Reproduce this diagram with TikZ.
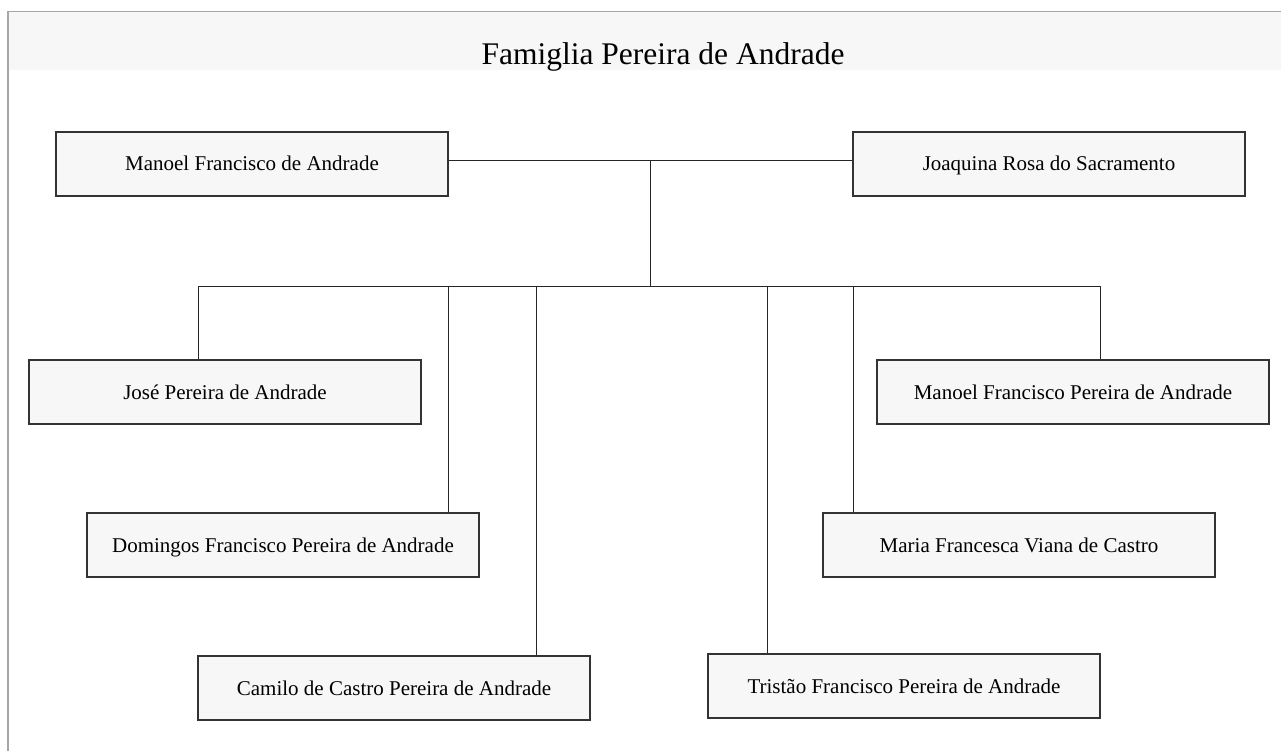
\documentclass[tikz,border=0pt]{standalone}
\usepackage{fontspec}
\setmainfont{Liberation Serif}
\usetikzlibrary{positioning}

\tikzset{
  person/.style={draw=black!80, fill=black!3, line width=1.2pt,
    minimum width=392pt, minimum height=64pt, inner sep=0pt,
    text height=14pt, text depth=0pt,
    font=\fontsize{21}{25}\selectfont},
  link/.style={draw=black!85, line width=1pt},
}

\begin{document}
\begin{tikzpicture}[x=1pt,y=-1pt]
    \useasboundingbox (0,0) rectangle (1281,751);
    % frame and title band
    \fill[black!3] (9,12) rectangle (1281,70);
    \draw[black!35, line width=1.2pt] (8,751) -- (8,11.5) -- (1281,11.5);
    \node (title) [anchor=base, font=\fontsize{31.5}{36}\selectfont] at (663,65) {Famiglia Pereira de Andrade};

    % parents
    \node (manoel) [person] at (252,164) {Manoel Francisco de Andrade};
    \node (joaquina) [person] at (1049,164) {Joaquina Rosa do Sacramento};
    \draw [link] ([yshift=3pt]manoel.east) -- coordinate (wed) ([yshift=3pt]joaquina.west);
    \coordinate (bus) at (wed |- 0,286);
    \draw [link] (wed) -- (bus);

    % children
    \foreach \kid/\cx/\cy/\dx/\name in {jose/225/392/198/{José Pereira de Andrade},
            domingos/283/545/448/{Domingos Francisco Pereira de Andrade},
            camilo/394/688/536/{Camilo de Castro Pereira de Andrade},
            tristao/904/686/767/{Tristão Francisco Pereira de Andrade},
            maria/1019/545/853/{Maria Francesca Viana de Castro},
            manoelfp/1073/392/1100/{Manoel Francisco Pereira de Andrade}} {
        \node (\kid) [person] at (\cx,\cy) {\name};
        \coordinate (drop-\kid) at (\dx,286);
        \draw [link] (drop-\kid) -- (drop-\kid |- \kid.north);
    }
    \draw [link] (drop-jose) -- (drop-manoelfp);
\end{tikzpicture}
\end{document}
